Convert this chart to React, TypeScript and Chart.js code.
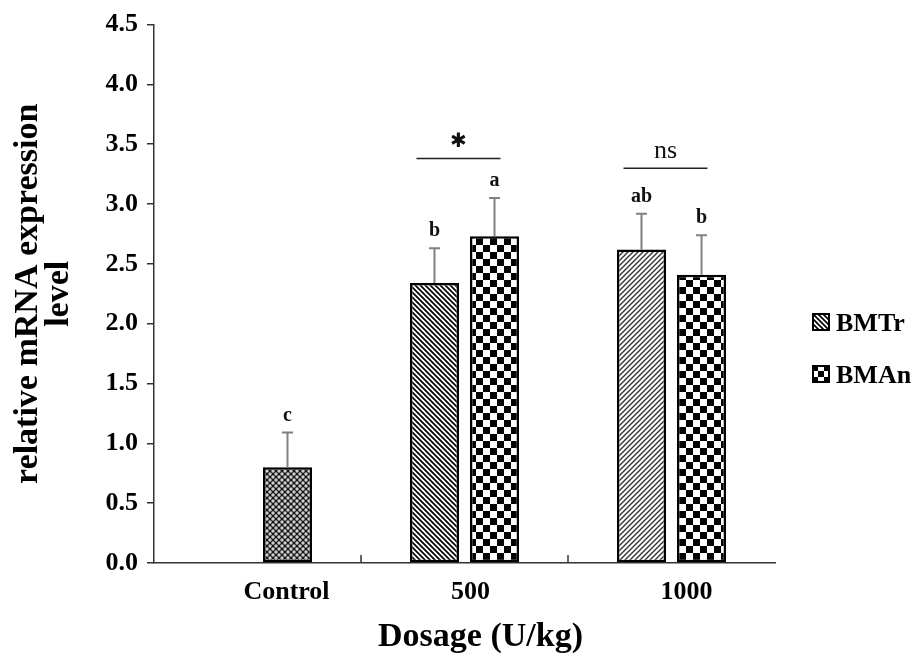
import React, { useEffect, useRef } from "react";
import { Chart, registerables } from "chart.js";
Chart.register(...registerables);

// ---- data ----
const categories = ["Control", "500", "1000"];
const seriesNames = ["BMTr", "BMAn"];
const bmtrValues: (number | null)[] = [null, 2.34, 2.62];
const bmanValues: (number | null)[] = [0.8, 2.73, 2.41];
const bmtrErrors: (number | null)[] = [null, 0.29, 0.3];
const bmanErrors: (number | null)[] = [0.29, 0.32, 0.33];
const bmtrLetters = ["", "b", "ab"];
const bmanLetters = ["c", "a", "b"];
const sigLevels: (number | null)[] = [null, 3.38, 3.3];
const sigLabels = ["", "*", "ns"];
const yTickValues = [0, 0.5, 1.0, 1.5, 2.0, 2.5, 3.0, 3.5, 4.0, 4.5];
const yTitle = ["relative mRNA expression", "level"];
const xTitle = "Dosage (U/kg)";

const SERIF = "'Liberation Serif', 'Times New Roman', serif";

function makePattern(w: number, h: number, draw: (c: CanvasRenderingContext2D) => void) {
  const cv = document.createElement("canvas");
  cv.width = w;
  cv.height = h;
  const c = cv.getContext("2d")!;
  draw(c);
  return c.createPattern(cv, "repeat")!;
}

function backStripes(color: string, lw: number, s: number) {
  return makePattern(s, s, (c) => {
    c.fillStyle = "#fff";
    c.fillRect(0, 0, s, s);
    c.strokeStyle = color;
    c.lineWidth = lw;
    c.beginPath();
    c.moveTo(-1, -1); c.lineTo(s + 1, s + 1);
    c.moveTo(-1, s - 1); c.lineTo(1, s + 1);
    c.moveTo(s - 1, -1); c.lineTo(s + 1, 1);
    c.stroke();
  });
}

function fwdStripes(color: string, lw: number, s: number) {
  return makePattern(s, s, (c) => {
    c.fillStyle = "#fff";
    c.fillRect(0, 0, s, s);
    c.strokeStyle = color;
    c.lineWidth = lw;
    c.beginPath();
    c.moveTo(-1, s + 1); c.lineTo(s + 1, -1);
    c.moveTo(-1, 1); c.lineTo(1, -1);
    c.moveTo(s - 1, s + 1); c.lineTo(s + 1, s - 1);
    c.stroke();
  });
}

function checker(cell: number) {
  return makePattern(cell * 2, cell * 2, (c) => {
    c.fillStyle = "#fff";
    c.fillRect(0, 0, cell * 2, cell * 2);
    c.fillStyle = "#000";
    c.fillRect(0, 0, cell, cell);
    c.fillRect(cell, cell, cell, cell);
  });
}

function lattice() {
  const s = 6;
  return makePattern(s, s, (c) => {
    c.fillStyle = "#151515";
    c.fillRect(0, 0, s, s);
    c.fillStyle = "#cfcfcf";
    const pts = [[3, 3], [0, 0], [s, 0], [0, s], [s, s]];
    for (const [px, py] of pts) {
      c.beginPath();
      c.arc(px, py, 1.7, 0, Math.PI * 2);
      c.fill();
    }
  });
}

export default function App() {
  const ref = useRef<HTMLCanvasElement | null>(null);

  useEffect(() => {
    const canvas = ref.current;
    if (!canvas) return;

    const pBack = backStripes("#000", 1.7, 5);
    const pFwd = fwdStripes("#333", 1.4, 5);
    const pCheck = checker(7);
    const pLattice = lattice();

    const errs = [bmtrErrors, bmanErrors];
    const letters = [bmtrLetters, bmanLetters];

    const annotate = {
      id: "annotate",
      afterDatasetsDraw(chart: any) {
        const ctx: CanvasRenderingContext2D = chart.ctx;
        const ys = chart.scales.y;
        const xs = chart.scales.x;
        ctx.save();
        chart.data.datasets.forEach((ds: any, d: number) => {
          const meta = chart.getDatasetMeta(d);
          meta.data.forEach((el: any, i: number) => {
            const v = ds.data[i];
            const e = errs[d][i];
            if (v == null || e == null) return;
            const capY = ys.getPixelForValue(v + e);
            ctx.strokeStyle = "#808080";
            ctx.lineWidth = 2;
            ctx.beginPath();
            ctx.moveTo(el.x, el.y);
            ctx.lineTo(el.x, capY);
            ctx.moveTo(el.x - 5.5, capY);
            ctx.lineTo(el.x + 5.5, capY);
            ctx.stroke();
            const t = letters[d][i];
            if (t) {
              ctx.fillStyle = "#111";
              ctx.font = `bold 20px ${SERIF}`;
              ctx.textAlign = "center";
              ctx.textBaseline = "alphabetic";
              ctx.fillText(t, el.x, capY - 12);
            }
          });
        });
        sigLevels.forEach((lv, i) => {
          if (lv == null) return;
          const cx = xs.getPixelForValue(i) - 6;
          const ly = ys.getPixelForValue(lv);
          ctx.strokeStyle = "#222";
          ctx.lineWidth = 1.5;
          ctx.beginPath();
          ctx.moveTo(cx - 42, ly);
          ctx.lineTo(cx + 42, ly);
          ctx.stroke();
          ctx.fillStyle = "#111";
          ctx.textAlign = "center";
          if (sigLabels[i] === "*") {
            ctx.font = `bold 20px 'DejaVu Sans', sans-serif`;
            ctx.textBaseline = "middle";
            ctx.fillText("\u2731", cx, ly - 17);
          } else {
            ctx.font = `26px ${SERIF}`;
            ctx.textBaseline = "alphabetic";
            ctx.fillText(sigLabels[i], cx, ly - 10);
          }
        });
        ctx.restore();
      },
      afterDraw(chart: any) {
        const ctx: CanvasRenderingContext2D = chart.ctx;
        const xs = chart.scales.x;
        const area = chart.chartArea;
        ctx.save();
        // category separator ticks (inside)
        ctx.strokeStyle = "#333";
        ctx.lineWidth = 1.5;
        ctx.beginPath();
        for (let i = 1; i < categories.length; i++) {
          const bx = (xs.getPixelForValue(i - 1) + xs.getPixelForValue(i)) / 2;
          ctx.moveTo(bx, area.bottom - 8);
          ctx.lineTo(bx, area.bottom);
        }
        ctx.stroke();
        // x category labels
        const shifts = [29, 6, 15];
        ctx.fillStyle = "#000";
        ctx.font = `bold 26px ${SERIF}`;
        ctx.textAlign = "center";
        ctx.textBaseline = "alphabetic";
        categories.forEach((c, i) => {
          ctx.fillText(c, xs.getPixelForValue(i) + shifts[i], area.bottom + 36);
        });
        // x title
        ctx.font = `bold 34px ${SERIF}`;
        ctx.fillText(xTitle, (area.left + area.right) / 2 + 16, area.bottom + 83);
        // legend
        const icons = [backStripes("#000", 1.7, 5), checker(6)];
        seriesNames.forEach((n, k) => {
          const top = 313 + k * 52;
          const left = 812;
          ctx.save();
          ctx.translate(left, top);
          ctx.fillStyle = icons[k];
          ctx.fillRect(0, 0, 18, 18);
          ctx.restore();
          ctx.strokeStyle = "#000";
          ctx.lineWidth = 2;
          ctx.strokeRect(left + 1, top + 1, 16, 16);
          ctx.fillStyle = "#000";
          ctx.font = `bold 26px ${SERIF}`;
          ctx.textAlign = "left";
          ctx.fillText(n, 836, top + 18);
        });
        ctx.restore();
      },
    };

    const chart = new Chart(canvas, {
      type: "bar",
      data: {
        labels: categories,
        datasets: [
          {
            label: seriesNames[0],
            data: bmtrValues,
            backgroundColor: [pBack, pBack, pFwd] as any,
            borderColor: "#000",
            borderWidth: 2.5,
            borderSkipped: false,
            categoryPercentage: 0.58,
            barPercentage: 0.817,
          },
          {
            label: seriesNames[1],
            data: bmanValues,
            backgroundColor: [pLattice, pCheck, pCheck] as any,
            borderColor: "#000",
            borderWidth: 2.5,
            borderSkipped: false,
            categoryPercentage: 0.58,
            barPercentage: 0.817,
          },
        ],
      },
      options: {
        responsive: false,
        animation: false,
        devicePixelRatio: 1,
        layout: { padding: { top: 22, right: 139, left: 0, bottom: 0 } },
        plugins: {
          legend: { display: false },
          tooltip: { enabled: false },
        },
        scales: {
          x: {
            afterFit: (s: any) => { s.height = 91; },
            ticks: { display: false },
            grid: { display: true, drawOnChartArea: false, drawTicks: false },
            border: { display: true, color: "#333", width: 1.5 },
          },
          y: {
            min: 0,
            max: 4.5,
            afterFit: (s: any) => { s.width = 154; },
            afterBuildTicks: (s: any) => { s.ticks = yTickValues.map((v) => ({ value: v })); },
            ticks: {
              callback: (v: any) => Number(v).toFixed(1),
              font: { family: SERIF, size: 26, weight: "bold" },
              color: "#000",
              padding: 9,
            },
            grid: { drawOnChartArea: false, drawTicks: true, tickLength: 7, color: "#333", lineWidth: 1.5 },
            border: { display: true, color: "#333", width: 1.5 },
            title: {
              display: true,
              text: yTitle,
              font: { family: SERIF, size: 34, weight: "bold", lineHeight: 0.9 },
              color: "#000",
              padding: { top: 13, bottom: 0 },
            },
          },
        },
      },
      plugins: [annotate],
    });
    return () => chart.destroy();
  }, []);

  return (
    <div style={{ position: "absolute", left: 0, top: 0, width: 914, height: 654, background: "#fff" }}>
      <canvas ref={ref} width={914} height={654} style={{ display: "block", width: 914, height: 654 }} />
    </div>
  );
}
